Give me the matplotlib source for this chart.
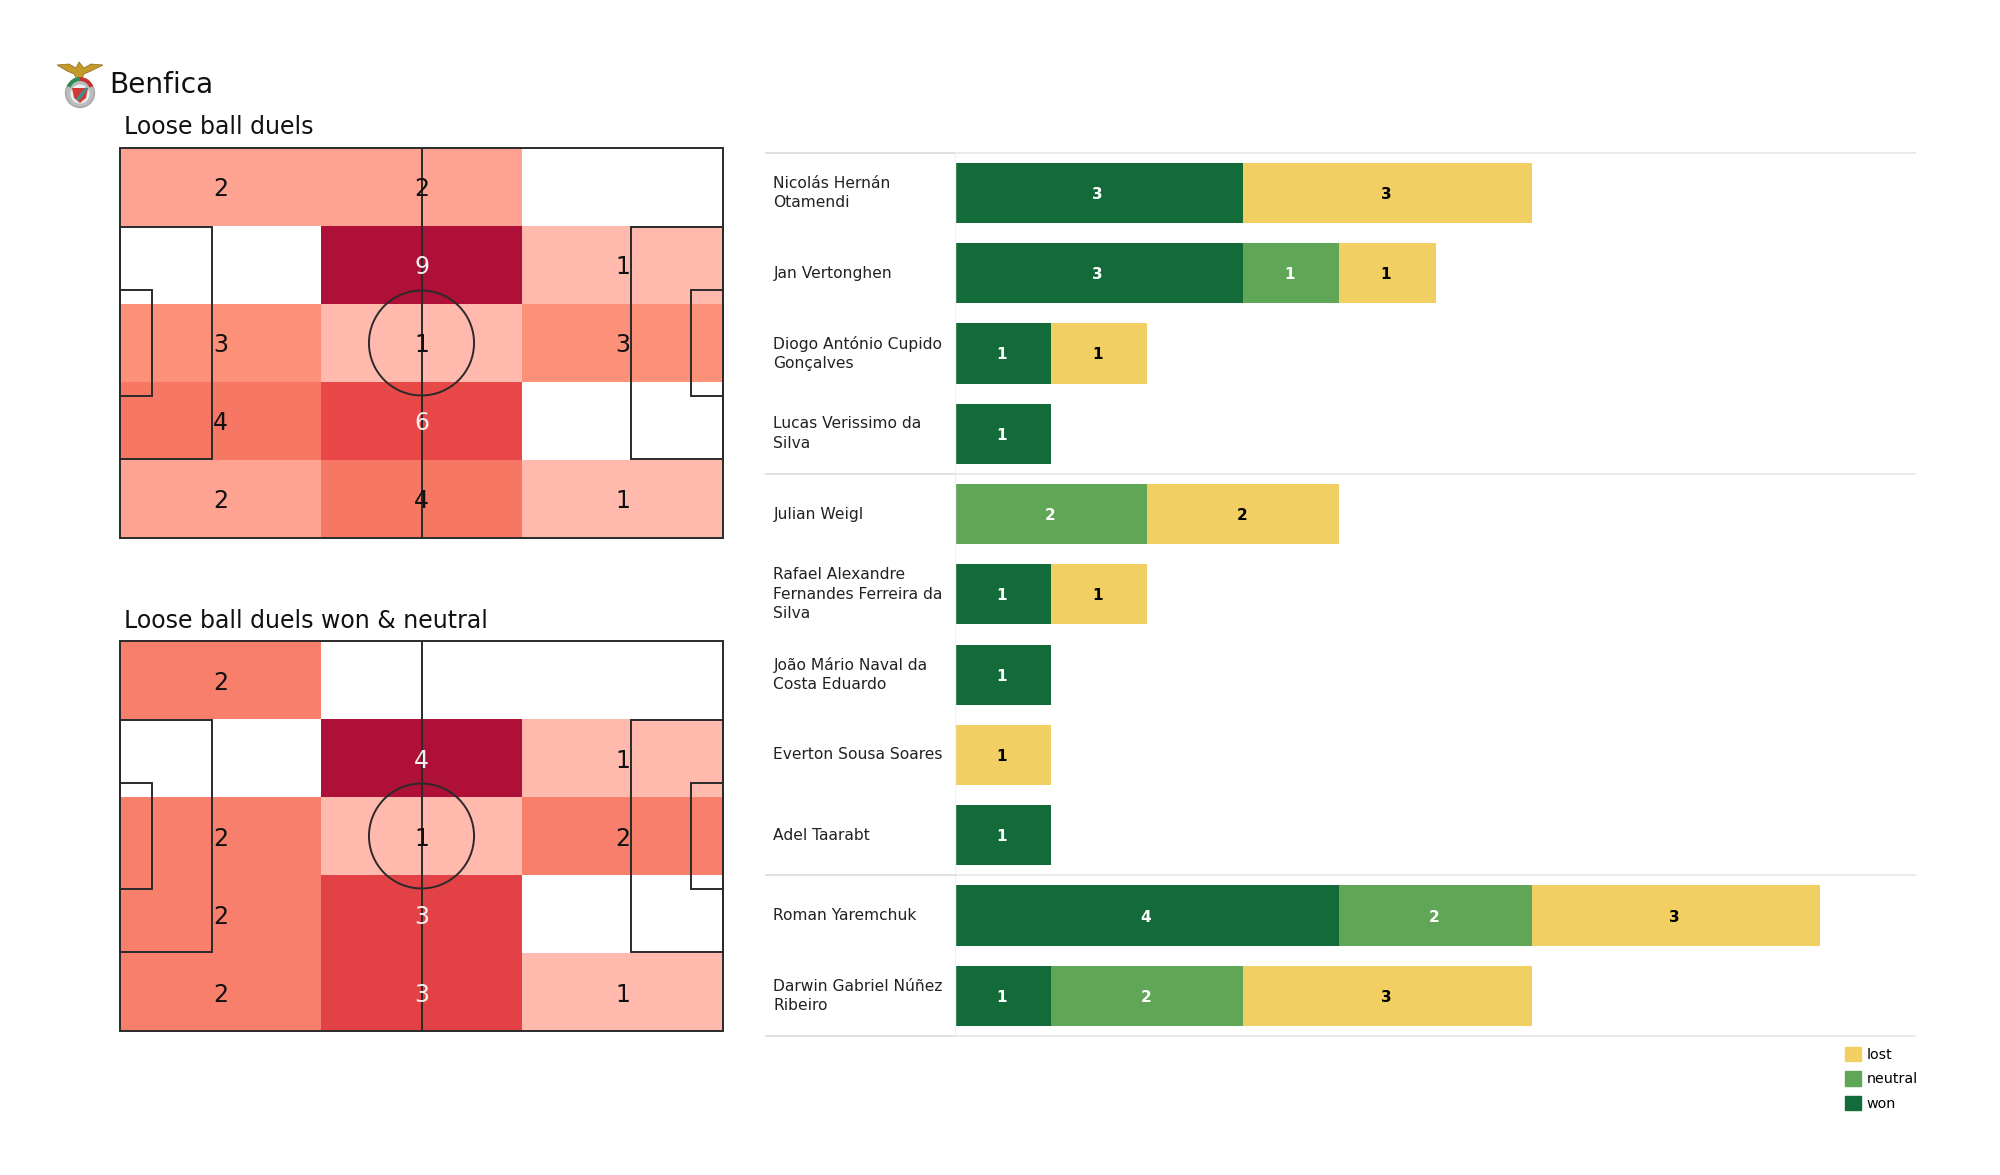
import numpy as np
import matplotlib.pyplot as plt
from matplotlib.colors import LinearSegmentedColormap, Normalize
from matplotlib.patches import Rectangle, Circle, Polygon, Wedge, Patch

W, H = 2000, 1175

# heatmap counts, top row first
zones_all = [[2, 2, 0],
             [0, 9, 1],
             [3, 1, 3],
             [4, 6, 0],
             [2, 4, 1]]
zones_won = [[2, 0, 0],
             [0, 4, 1],
             [2, 1, 2],
             [2, 3, 0],
             [2, 3, 1]]

players = ["Nicolás Hernán\nOtamendi", "Jan Vertonghen", "Diogo António Cupido\nGonçalves",
           "Lucas Verissimo da\nSilva", "Julian Weigl", "Rafael Alexandre\nFernandes Ferreira da\nSilva",
           "João Mário Naval da\nCosta Eduardo", "Everton Sousa Soares", "Adel Taarabt",
           "Roman Yaremchuk", "Darwin Gabriel Núñez\nRibeiro"]
won = [3, 3, 1, 1, 0, 1, 1, 0, 1, 4, 1]
neutral = [0, 1, 0, 0, 2, 0, 0, 0, 0, 2, 2]
lost = [3, 1, 1, 0, 2, 1, 0, 1, 0, 3, 3]
separators = [3.5, 8.5]

GREEN = "#146b3a"
MID = "#60a657"
YELLOW = "#f1cf63"
LINE = "#2a2a2a"

cmap = LinearSegmentedColormap.from_list(
    "duels", [(0, "#ffb9ad"), (0.125, "#fea392"), (0.25, "#fc9079"), (0.375, "#f67764"),
              (0.625, "#e94848"), (1, "#ae1038")])


def px_axes(fig, x0, y0, x1, y1):
    # pixel box, measured from the top left of the picture
    return fig.add_axes([x0/W, 1-y1/H, (x1-x0)/W, (y1-y0)/H])


def pitch(ax, zones):
    zones = np.array(zones, dtype=float)
    norm = Normalize(1, zones.max())
    xe = np.linspace(0, 105, 4)
    ye = np.linspace(68, 0, 6)
    ax.pcolormesh(xe, ye, np.ma.masked_equal(zones, 0), cmap=cmap, norm=norm)
    for r in range(5):
        for c in range(3):
            v = zones[r, c]
            if v > 0:
                ax.text((xe[c]+xe[c+1])/2, (ye[r]+ye[r+1])/2, f"{int(v)}", ha="center", va="center_baseline",
                        size=17, color="#f5eeee" if norm(v) > 0.6 else "#111111", zorder=4)
    lw = 1.4
    kw = dict(fill=False, ec=LINE, lw=lw, zorder=3, clip_on=False)
    ax.add_patch(Rectangle((0, 0), 105, 68, **kw))
    ax.plot([52.5, 52.5], [0, 68], color=LINE, lw=lw, zorder=3)
    ax.add_patch(Circle((52.5, 34), 9.15, **kw))
    for x, w in [(0, 16), (89, 16)]:
        ax.add_patch(Rectangle((x, 13.84), w, 40.32, **kw))
    for x, w in [(0, 5.5), (99.5, 5.5)]:
        ax.add_patch(Rectangle((x, 24.84), w, 18.32, **kw))
    ax.set_xlim(0, 105)
    ax.set_ylim(0, 68)
    ax.axis("off")


def logo(ax):
    ax.set_xlim(0, 50)
    ax.set_ylim(50, 0)
    ax.axis("off")
    ax.add_patch(Polygon([[2, 6], [14, 5], [21, 9], [24, 3], [29, 9], [36, 5], [48, 6], [36, 12], [29, 15],
                          [26, 21], [22, 21], [19, 15], [12, 12]], fc="#c39a2b", ec="#8a6a1c", lw=0.5))
    ax.add_patch(Circle((25, 34), 14.5, fc="#b9bdbd", ec="#9a9f9f", lw=0.8))
    ax.add_patch(Circle((25, 35), 9.5, fc="#eeeeee", ec="none"))
    ax.add_patch(Polygon([[17, 29], [33, 29], [31, 39], [25, 44], [19, 39]], fc="#cf3a35", ec="none"))
    ax.add_patch(Polygon([[21, 40], [31, 28], [33, 30], [24, 42]], fc="#3f8f8c", ec="none"))
    ax.add_patch(Wedge((25, 32), 14, 200, 270, width=4, fc="#2f8c55", ec="none"))
    ax.add_patch(Wedge((25, 32), 14, 270, 340, width=4, fc="#c8322f", ec="none"))


fig = plt.figure(figsize=(W/100, H/100), dpi=100)

ax1 = px_axes(fig, 120, 148, 723, 538)
pitch(ax1, zones_all)
ax2 = px_axes(fig, 120, 641, 723, 1031)
pitch(ax2, zones_won)

fig.text(109/W, 1-93/H, "Benfica", size=20.2, color="#111111", va="baseline")
fig.text(124/W, 1-134/H, "Loose ball duels", size=17, color="#111111", va="baseline")
fig.text(124/W, 1-628/H, "Loose ball duels won & neutral", size=17, color="#111111", va="baseline")

logo(px_axes(fig, 55, 59, 105, 109))

ax = px_axes(fig, 955, 152.7, 1916, 1036)
y = np.arange(len(players))
won, neutral, lost = np.array(won), np.array(neutral), np.array(lost)
ax.barh(y, won, height=0.75, color=GREEN)
ax.barh(y, neutral, left=won, height=0.75, color=MID)
ax.barh(y, lost, left=won+neutral, height=0.75, color=YELLOW)
for i in y:
    left = 0
    for v, col in [(won[i], "white"), (neutral[i], "white"), (lost[i], "black")]:
        if v > 0:
            ax.text(left+v/2-0.015, i, str(v), ha="center", va="center_baseline", size=11, weight="bold", color=col)
        left += v
    ax.text(-1.89, i, players[i], ha="left", va="center", size=11.2, color="#222222", linespacing=1.38)

ax.set_xlim(0, 10)
ax.set_ylim(len(players)-0.5, -0.5)
for sp in ax.spines.values():
    sp.set_visible(False)
ax.axvline(0, color="#f2f2f2", lw=1)
ax.set_xticks([])
ax.set_yticks([])
for s in [-0.5]+separators+[len(players)-0.5]:
    ax.plot([-1.98, 0], [s, s], color="#dcdcdc", lw=1.2, clip_on=False, solid_capstyle="butt")
    ax.plot([0, 10], [s, s], color="#e6e6e6", lw=1.2, clip_on=False, solid_capstyle="butt")

handles = [Patch(color=YELLOW, label="lost"), Patch(color=MID, label="neutral"), Patch(color=GREEN, label="won")]
fig.legend(handles=handles, loc="upper right", bbox_to_anchor=(1922/W, 1-1042.5/H), frameon=False, fontsize=10.3,
           handlelength=1.16, handleheight=1.16, handletextpad=0.38, labelspacing=0.66, borderpad=0.3, borderaxespad=0)

plt.savefig("out.png", dpi=100)
